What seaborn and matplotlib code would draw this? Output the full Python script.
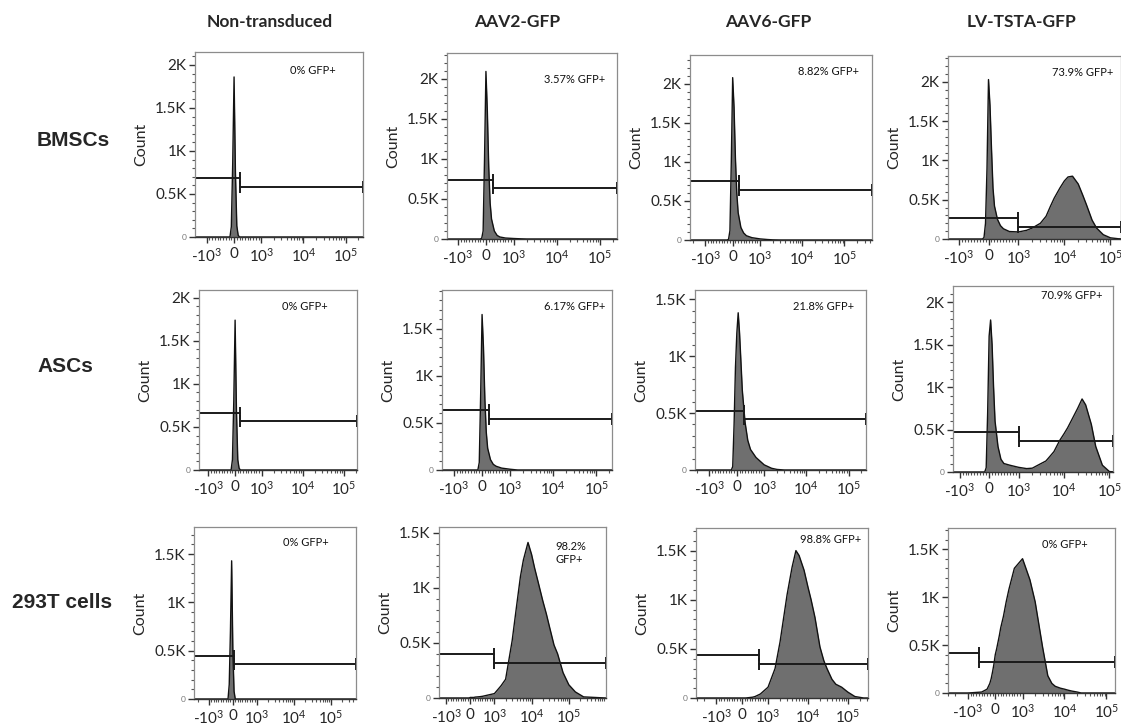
import seaborn as sns
import matplotlib.pyplot as plt
from matplotlib.ticker import FixedLocator, MultipleLocator

# fluorescence grid (GFP, biexponential-like axis) shared by every histogram
fluor = [-3000, -1000, -500, -300, -200, -150, -100, -50, 0, 50,
         100, 150, 200, 300, 400, 500, 700, 1000, 1500, 2000,
         3000, 4000, 5000, 6000, 8000, 10000, 12000, 15000, 20000, 25000,
         30000, 40000, 50000, 70000, 100000, 150000, 250000, 1000000]

# counts, one list per panel
bmsc_nt = [0, 0, 0, 0, 0, 0, 120, 850, 1860, 750,
           130, 20, 0, 0, 0, 0, 0, 0, 0, 0,
           0, 0, 0, 0, 0, 0, 0, 0, 0, 0,
           0, 0, 0, 0, 0, 0, 0, 0]
bmsc_aav2 = [0, 0, 0, 0, 0, 10, 100, 1000, 2090, 1600,
             900, 450, 250, 100, 45, 25, 12, 6, 2, 0,
             0, 0, 0, 0, 0, 0, 0, 0, 0, 0,
             0, 0, 0, 0, 0, 0, 0, 0]
bmsc_aav6 = [0, 0, 0, 0, 0, 10, 120, 1000, 2080, 1700,
             1050, 600, 350, 160, 90, 55, 30, 14, 6, 2,
             0, 0, 0, 0, 0, 0, 0, 0, 0, 0,
             0, 0, 0, 0, 0, 0, 0, 0]
bmsc_lv = [0, 0, 0, 0, 0, 20, 200, 900, 2030, 1700,
           1150, 650, 420, 250, 170, 130, 95, 90, 110, 140,
           200, 290, 420, 520, 650, 740, 790, 800, 700, 560,
           440, 240, 140, 55, 15, 3, 0, 0]
asc_nt = [0, 0, 0, 0, 0, 0, 120, 800, 1740, 700,
          120, 20, 0, 0, 0, 0, 0, 0, 0, 0,
          0, 0, 0, 0, 0, 0, 0, 0, 0, 0,
          0, 0, 0, 0, 0, 0, 0, 0]
asc_aav2 = [0, 0, 0, 0, 0, 0, 80, 800, 1650, 1300,
            750, 400, 230, 110, 60, 40, 20, 8, 0, 0,
            0, 0, 0, 0, 0, 0, 0, 0, 0, 0,
            0, 0, 0, 0, 0, 0, 0, 0]
asc_aav6 = [0, 0, 0, 0, 0, 30, 400, 900, 1200, 1380,
            1200, 950, 700, 420, 260, 180, 110, 45, 15, 5,
            0, 0, 0, 0, 0, 0, 0, 0, 0, 0,
            0, 0, 0, 0, 0, 0, 0, 0]
asc_lv = [0, 0, 0, 0, 0, 0, 50, 700, 1600, 1790,
          1500, 1000, 600, 300, 150, 100, 80, 55, 40, 45,
          95, 130, 190, 240, 370, 450, 520, 620, 750, 860,
          790, 560, 300, 80, 5, 0, 0, 0]
t293_nt = [0, 0, 0, 0, 0, 150, 700, 1430, 500, 80,
           0, 0, 0, 0, 0, 0, 0, 0, 0, 0,
           0, 0, 0, 0, 0, 0, 0, 0, 0, 0,
           0, 0, 0, 0, 0, 0, 0, 0]
t293_aav2 = [0, 0, 0, 0, 0, 0, 0, 0, 5, 5,
             5, 5, 8, 10, 12, 15, 25, 40, 110, 170,
             520, 850, 1100, 1250, 1410, 1300, 1180, 1050, 880, 760,
             650, 480, 400, 230, 120, 55, 10, 0]
t293_aav6 = [0, 0, 0, 0, 0, 0, 0, 0, 0, 0,
             0, 0, 2, 5, 8, 15, 40, 110, 300, 570,
             1050, 1330, 1500, 1450, 1300, 1130, 1000, 820, 520, 380,
             300, 190, 140, 110, 60, 15, 0, 0]
t293_lv = [0, 0, 10, 40, 100, 150, 220, 300, 400, 460,
           530, 600, 680, 800, 950, 1080, 1300, 1400, 1180, 950,
           480, 180, 100, 70, 50, 40, 30, 20, 10, 0,
           0, 0, 0, 0, 0, 0, 0, 0]

counts = [bmsc_nt, bmsc_aav2, bmsc_aav6, bmsc_lv,
          asc_nt, asc_aav2, asc_aav6, asc_lv,
          t293_nt, t293_aav2, t293_aav6, t293_lv]

col_titles = ["Non-transduced", "AAV2-GFP", "AAV6-GFP", "LV-TSTA-GFP"]
row_titles = ["BMSCs", "ASCs", "293T cells"]
pct_text = ["0% GFP+", "3.57% GFP+", "8.82% GFP+", "73.9% GFP+",
            "0% GFP+", "6.17% GFP+", "21.8% GFP+", "70.9% GFP+",
            "0% GFP+", "98.2%\nGFP+", "98.8% GFP+", "0% GFP+"]

# gates: split point, level of negative gate, level of positive gate
gate_x = [200, 240, 240, 1000, 200, 240, 270, 1000, 40, 1000, 670, -600]
gate_neg = [690, 740, 760, 270, 660, 640, 520, 470, 450, 400, 440, 420]
gate_pos = [580, 630, 640, 150, 570, 540, 450, 360, 360, 320, 350, 320]

# axis ranges per panel
y_top = [2150, 2320, 2370, 2330, 2090, 1910, 1580, 2190, 1780, 1550, 1730, 1720]
x_lo = [-1900, -1800, -2300, -1700, -1700, -1900, -2200, -1400, -2500, -1550, -3200, -3000]
x_hi = [2.6e5, 2.5e5, 4.5e5, 1.7e5, 2.1e5, 2.3e5, 2.6e5, 1.2e5, 4.7e5, 1.0e6, 3.2e5, 1.6e5]

ytick_vals = [0, 500, 1000, 1500, 2000]
ytick_labels = ["0", "0.5K", "1K", "1.5K", "2K"]
xtick_vals = [-1000, 0, 1000, 10000, 100000]
xtick_labels = [r"-$\mathregular{10^3}$", "0", r"$\mathregular{10^3}$",
                r"$\mathregular{10^4}$", r"$\mathregular{10^5}$"]

# layout in pixels: left, top, right, bottom
boxes = [(195, 52, 363, 237), (447, 53, 617, 239), (690, 55, 872, 240), (948, 56, 1121, 239),
         (199, 290, 357, 470), (442, 290, 612, 470), (695, 290, 866, 470), (953, 286, 1113, 472),
         (194, 527, 356, 699), (439, 527, 606, 698), (696, 528, 868, 698), (948, 528, 1115, 693)]
pct_pos = [(0.70, 0.90), (0.75, 0.855), (0.76, 0.91), (0.78, 0.91),
           (0.67, 0.91), (0.78, 0.91), (0.75, 0.91), (0.74, 0.95),
           (0.69, 0.91), (0.79, 0.85), (0.78, 0.93), (0.70, 0.90)]
col_x = [270, 517, 768, 1021]
row_x = [37, 37, 12]
row_y = [140, 366, 603]

sns.set_style("ticks")
plt.rcParams["font.family"] = ["Lato", "DejaVu Sans"]
plt.rcParams["mathtext.fontset"] = "custom"
plt.rcParams["mathtext.rm"] = "Lato"
plt.rcParams["mathtext.it"] = "Lato:italic"
plt.rcParams["mathtext.bf"] = "Lato:bold"

W, H = 1121, 725
fig = plt.figure(figsize=(W / 100, H / 100), dpi=100)

minor_x = ([-k * 1000 for k in range(2, 10)] + [k * 100 for k in range(-9, 10) if k != 0]
           + [k * 10 ** e for e in (3, 4, 5) for k in range(2, 10)])

for i, y in enumerate(counts):
    l, t, r, b = boxes[i]
    ax = fig.add_axes([l / W, 1 - b / H, (r - l) / W, (b - t) / H])
    ax.fill_between(fluor, y, color="#6f6f6f", lw=0)
    sns.lineplot(x=fluor, y=y, ax=ax, color="#111111", lw=1.0)
    ax.set_xscale("symlog", linthresh=1000, linscale=0.585)
    ax.set_xlim(x_lo[i], x_hi[i])
    ax.set_ylim(0, y_top[i])

    # gates
    ax.plot([x_lo[i], gate_x[i]], [gate_neg[i]] * 2, color="#1a1a1a", lw=1.4,
            marker="|", ms=8, mew=1.4, markevery=[1])
    ax.plot([gate_x[i], x_hi[i]], [gate_pos[i]] * 2, color="#1a1a1a", lw=1.4,
            marker="|", ms=8, mew=1.4, clip_on=False)

    ax.text(*pct_pos[i], pct_text[i], transform=ax.transAxes, ha="center", va="center",
            fontsize=8, multialignment="left", color="#111111")

    yt = [v for v in ytick_vals if v <= y_top[i]]
    ax.set_yticks(yt)
    ax.set_yticklabels(ytick_labels[:len(yt)])
    ax.yaxis.set_minor_locator(MultipleLocator(100))
    ax.set_xticks(xtick_vals)
    ax.set_xticklabels(xtick_labels)
    ax.xaxis.set_minor_locator(FixedLocator(minor_x))
    ax.tick_params(axis="both", which="major", length=4, width=1, color="#333333",
                   labelsize=11, pad=2)
    ax.tick_params(axis="x", which="major", pad=3)
    ax.tick_params(axis="both", which="minor", length=2, width=0.8, color="#555555")
    zero_lab = ax.get_yticklabels()[0]
    zero_lab.set_fontsize(6)
    zero_lab.set_color("#777777")

    ax.set_ylabel("Count", fontsize=11.5, labelpad=5)
    ax.set_xlabel("")
    for side in ["top", "right", "left"]:
        ax.spines[side].set_color("#8c8c8c")
        ax.spines[side].set_linewidth(0.9)
    ax.spines["bottom"].set_color("#333333")
    ax.spines["bottom"].set_linewidth(1.0)

for c, name in enumerate(col_titles):
    fig.text(col_x[c] / W, 1 - 22 / H, name, ha="center", va="center",
             fontsize=12.5, fontweight="bold")
for r, name in enumerate(row_titles):
    fig.text(row_x[r] / W, 1 - row_y[r] / H, name, ha="left", va="center",
             fontsize=15, fontweight="bold", family="Liberation Sans")

fig.savefig("out.png", dpi=100)
